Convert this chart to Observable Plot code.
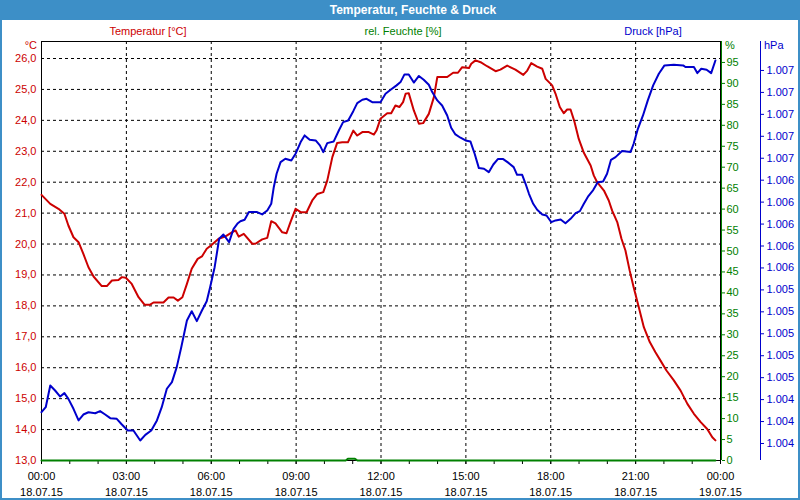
<!DOCTYPE html>
<html>
<head>
<meta charset="utf-8">
<script src="https://cdn.jsdelivr.net/npm/d3@7"></script>
<script src="https://cdn.jsdelivr.net/npm/@observablehq/plot@0.6"></script>
<style>
html, body { margin: 0; padding: 0; background: #fff; }
#page { position: relative; width: 800px; height: 500px; overflow: hidden; background: #fff;
  font-family: "Liberation Sans", Arial, sans-serif; }
#titlebar { position: absolute; left: 0; top: 0; width: 800px; height: 20px; background: #3d8fc7; }
#title { position: absolute; left: 413px; top: 3px; transform: translateX(-50%); color: #fff;
  font-weight: bold; font-size: 12px; white-space: nowrap; }
#border { position: absolute; left: 0; top: 0; width: 800px; height: 500px; box-sizing: border-box;
  border: 2px solid #3d8fc7; border-top: none; pointer-events: none; z-index: 10; }
.lbl { position: absolute; font-size: 11px; white-space: nowrap; line-height: 13px; }
.layer { position: absolute; left: 0; top: 0; }
</style>
</head>
<body>
<div id="page">
  <div id="titlebar"></div>
  <div id="title">Temperatur, Feuchte &amp; Druck</div>
  <div class="lbl" style="left:148px;top:25px;transform:translateX(-50%);color:#cc0000">Temperatur [°C]</div>
  <div class="lbl" style="left:403px;top:25px;transform:translateX(-50%);color:#008000">rel. Feuchte [%]</div>
  <div class="lbl" style="left:653px;top:25px;transform:translateX(-50%);color:#0000cc">Druck [hPa]</div>
  <div class="lbl" style="right:763px;top:39px;color:#cc0000">°C</div>
  <div class="lbl" style="left:725px;top:39px;color:#008000">%</div>
  <div class="lbl" style="left:764px;top:39px;color:#0000cc">hPa</div>
  <div id="border"></div>
</div>
<script>
// ---- data (hours after 18.07.15 00:00) ----
const tempHours = [0.00,0.31,0.60,0.81,0.95,1.13,1.31,1.48,1.66,1.84,2.13,2.31,2.49,2.72,2.84,2.98,3.19,3.43,3.64,3.84,3.96,4.31,4.49,4.67,4.82,4.98,5.14,5.31,5.52,5.67,5.84,6.02,6.26,6.49,6.73,6.86,6.97,7.15,7.45,7.56,7.80,7.98,8.12,8.27,8.51,8.66,8.80,8.98,9.16,9.37,9.57,9.75,9.96,10.10,10.28,10.45,10.63,10.83,11.02,11.16,11.34,11.57,11.75,11.84,11.98,12.22,12.36,12.51,12.65,12.78,12.87,12.98,13.16,13.34,13.49,13.69,13.87,13.99,14.34,14.55,14.72,14.87,15.11,15.19,15.34,15.52,15.75,16.05,16.22,16.46,16.75,17.03,17.17,17.31,17.52,17.70,17.82,18.05,18.17,18.32,18.46,18.58,18.70,18.84,18.99,19.17,19.41,19.52,19.64,19.88,20.05,20.17,20.35,20.50,20.64,20.79,20.93,21.11,21.29,21.50,21.70,21.88,22.09,22.35,22.59,22.83,23.06,23.30,23.53,23.71,23.82];
const tempValues = [21.59,21.30,21.14,20.98,20.60,20.22,20.06,19.68,19.25,18.95,18.64,18.64,18.82,18.84,18.93,18.91,18.71,18.28,18.04,18.04,18.11,18.11,18.27,18.27,18.17,18.28,18.71,19.20,19.52,19.60,19.85,19.98,20.17,20.24,20.38,20.44,20.24,20.33,20.01,20.01,20.15,20.20,20.74,20.67,20.38,20.35,20.71,21.14,21.03,21.03,21.41,21.62,21.68,22.05,22.81,23.27,23.29,23.29,23.67,23.51,23.62,23.62,23.54,23.67,24.05,24.23,24.23,24.48,24.43,24.59,24.86,24.88,24.32,23.89,23.91,24.21,24.75,25.40,25.40,25.54,25.54,25.72,25.69,25.83,25.94,25.88,25.75,25.59,25.64,25.77,25.64,25.47,25.61,25.85,25.74,25.67,25.34,25.13,24.86,24.43,24.23,24.35,24.35,23.95,23.40,22.95,22.54,22.22,22.00,21.73,21.41,21.08,20.71,20.17,19.79,19.14,18.60,17.96,17.31,16.83,16.50,16.23,15.91,15.59,15.26,14.83,14.51,14.24,14.02,13.75,13.65];

const humHours = [0.00,10.75,10.83,11.08,11.17,23.82];
const humValues = [0,0,0.4,0.4,0,0];

const pressHours = [0.00,0.15,0.31,0.48,0.66,0.81,0.95,1.13,1.31,1.48,1.66,1.90,2.07,2.25,2.43,2.66,2.84,3.05,3.25,3.49,3.67,3.88,4.08,4.25,4.43,4.61,4.78,4.94,5.14,5.31,5.49,5.67,5.84,5.96,6.12,6.28,6.43,6.63,6.79,6.94,7.03,7.18,7.33,7.62,7.80,7.98,8.12,8.21,8.31,8.45,8.62,8.83,8.98,9.16,9.30,9.48,9.69,9.84,9.96,10.10,10.33,10.51,10.66,10.84,11.02,11.16,11.34,11.49,11.69,11.98,12.16,12.34,12.55,12.69,12.83,12.98,13.16,13.34,13.51,13.69,13.81,13.99,14.16,14.34,14.48,14.63,14.81,14.99,15.16,15.31,15.46,15.64,15.81,15.97,16.13,16.32,16.52,16.69,16.81,16.99,17.11,17.23,17.38,17.52,17.70,17.85,18.02,18.17,18.35,18.52,18.70,18.88,19.03,19.17,19.33,19.50,19.66,19.85,19.99,20.13,20.29,20.52,20.82,20.93,21.07,21.26,21.43,21.62,21.82,22.02,22.35,22.68,22.76,23.06,23.18,23.32,23.51,23.67,23.82];
const pressValues = [1004.285,1004.331,1004.529,1004.483,1004.428,1004.459,1004.407,1004.316,1004.210,1004.264,1004.285,1004.276,1004.295,1004.264,1004.231,1004.225,1004.173,1004.119,1004.119,1004.027,1004.079,1004.119,1004.210,1004.331,1004.499,1004.559,1004.696,1004.878,1005.121,1005.206,1005.115,1005.212,1005.297,1005.425,1005.607,1005.866,1005.905,1005.835,1005.957,1006.008,1006.026,1006.039,1006.109,1006.109,1006.088,1006.124,1006.185,1006.336,1006.459,1006.564,1006.595,1006.580,1006.641,1006.747,1006.808,1006.769,1006.762,1006.717,1006.656,1006.738,1006.753,1006.853,1006.929,1006.944,1007.029,1007.102,1007.133,1007.142,1007.111,1007.111,1007.188,1007.224,1007.264,1007.294,1007.364,1007.364,1007.290,1007.350,1007.316,1007.270,1007.203,1007.127,1007.081,1006.990,1006.878,1006.817,1006.787,1006.762,1006.753,1006.641,1006.510,1006.504,1006.473,1006.543,1006.592,1006.592,1006.555,1006.519,1006.449,1006.449,1006.367,1006.276,1006.185,1006.130,1006.088,1006.078,1006.017,1006.033,1006.042,1006.008,1006.048,1006.100,1006.118,1006.185,1006.255,1006.310,1006.382,1006.388,1006.459,1006.586,1006.610,1006.665,1006.656,1006.732,1006.860,1006.990,1007.127,1007.264,1007.370,1007.446,1007.452,1007.446,1007.431,1007.431,1007.376,1007.416,1007.407,1007.376,1007.491];

// ---- ticks ----
const tempTicks = [13,14,15,16,17,18,19,20,21,22,23,24,25,26];
const humTicks = [0,5,10,15,20,25,30,35,40,45,50,55,60,65,70,75,80,85,90,95];
const pressTicks = [1004.0,1004.2,1004.4,1004.6,1004.8,1005.0,1005.2,1005.4,1005.6,1005.8,1006.0,1006.2,1006.4,1006.6,1006.8,1007.0,1007.2,1007.4];
const majorTickHours = [0,3,6,9,12,15,18,21,24];
const gridHours = [3,6,9,12,15,18,21];
const minorTickHours = [0,1,2,3,4,5,6,7,8,9,10,11,12,13,14,15,16,17,18,19,20,21,22,23,24];

// ---- helpers ----
const RED = "#cc0000", GREEN = "#008000", BLUE = "#0000cc";
const T0 = Date.UTC(2015, 6, 18, 0, 0);
const toDate = h => new Date(T0 + Math.round(h * 3600e3));
const xDomain = [toDate(0), toDate(24)];
const zip = (hs, vs) => hs.map((h, i) => ({t: toDate(h), v: vs[i]}));
const tempData = zip(tempHours, tempValues);
const humData = zip(humHours, humValues);
const pressData = zip(pressHours, pressValues);
const fmtTime = d3.utcFormat("%H:%M"), fmtDate = d3.utcFormat("%d.%m.%y");

const common = {
  width: 800, height: 500,
  marginLeft: 41, marginRight: 80, marginTop: 41, marginBottom: 40,
  style: {background: "transparent", fontFamily: "'Liberation Sans', Arial, sans-serif", fontSize: "11px", overflow: "visible"}
};
const dash = {stroke: "#000", strokeOpacity: 1, strokeDasharray: "3,3", strokeWidth: 1};

const base = Plot.plot({
  ...common,
  x: {type: "utc", domain: xDomain},
  y: {domain: [13, 26.55]},
  marks: [
    Plot.ruleX(gridHours.map(toDate), {...dash}),
    Plot.ruleY(tempTicks.filter(t => t > 13), {...dash}),
    Plot.frame({stroke: "#000"}),
    Plot.axisX(minorTickHours.map(toDate), {tickSize: 4, tickFormat: () => "", label: null, color: "#000"}),
    Plot.axisX(majorTickHours.map(toDate), {tickSize: 4, tickPadding: 5, lineHeight: 1.4, label: null, color: "#000",
      tickFormat: d => fmtTime(d) + "\n" + fmtDate(d)}),
    Plot.axisY(tempTicks, {tickSize: 0, tickPadding: 5, label: null, color: RED,
      tickFormat: d => d.toFixed(1).replace(".", ",")}),
    Plot.line(tempData, {x: "t", y: "v", stroke: RED, strokeWidth: 2})
  ]
});

const hum = Plot.plot({
  ...common,
  x: {type: "utc", domain: xDomain, axis: null},
  y: {domain: [0, 100]},
  marks: [
    Plot.ruleX([xDomain[1]], {stroke: GREEN, strokeWidth: 1, dx: 1}),
    Plot.axisY(humTicks, {anchor: "right", tickSize: 3, tickPadding: 2, label: null, color: GREEN, dx: 1}),
    Plot.line(humData, {x: "t", y: "v", stroke: GREEN, strokeWidth: 2})
  ]
});

const press = Plot.plot({
  ...common,
  x: {type: "utc", domain: xDomain, axis: null},
  y: {domain: [1003.845, 1007.664]},
  marks: [
    Plot.ruleX([xDomain[1]], {stroke: BLUE, strokeWidth: 1, dx: 40}),
    Plot.axisY(pressTicks, {anchor: "right", tickSize: 3, tickPadding: 3, label: null, color: BLUE, dx: 40,
      tickFormat: v => (Math.round(v) / 1000).toFixed(3)}),
    Plot.line(pressData, {x: "t", y: "v", stroke: BLUE, strokeWidth: 2})
  ]
});

const page = document.getElementById("page");
const border = document.getElementById("border");
for (const svg of [base, hum, press]) {
  svg.classList.add("layer");
  svg.style.position = "absolute";
  svg.style.left = "0px";
  svg.style.top = "0px";
  page.insertBefore(svg, border);
}
</script>
</body>
</html>
